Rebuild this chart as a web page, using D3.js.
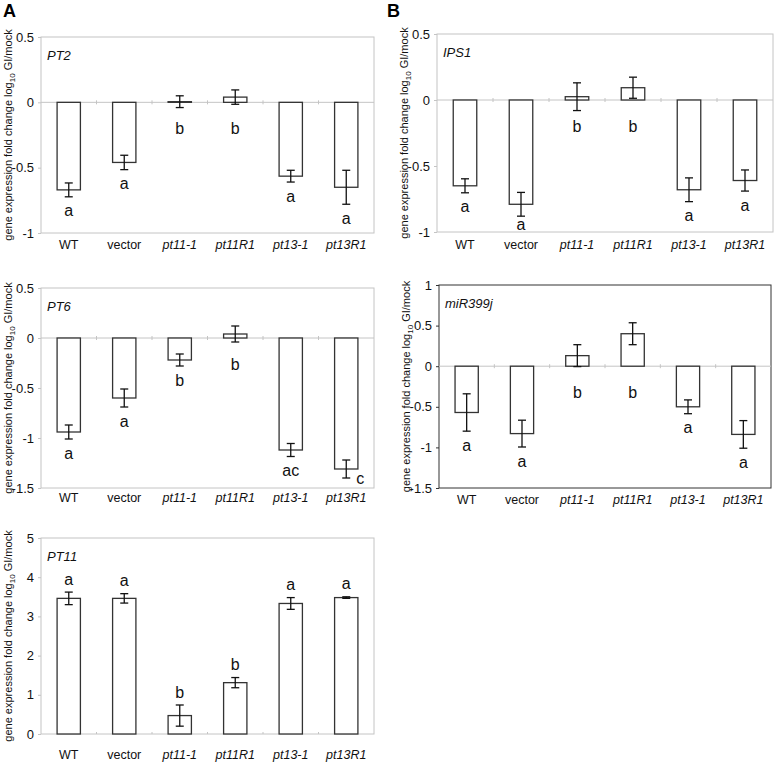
<!DOCTYPE html>
<html>
<head>
<meta charset="utf-8">
<script src="https://cdn.jsdelivr.net/npm/d3@7"></script>
<style>
  body { margin: 0; background: #fff; }
  svg { display: block; font-family: "Liberation Sans", Arial, sans-serif; }
</style>
</head>
<body>
<svg id="chart" width="774" height="767"></svg>
<script>
// categories on every panel
const categories = ["WT", "vector", "pt11-1", "pt11R1", "pt13-1", "pt13R1"];
const italicCats = ["pt11-1", "pt11R1", "pt13-1", "pt13R1"];

// PT2
const pt2Mean = [-0.67, -0.46, 0.005, 0.04, -0.565, -0.65];
const pt2Err = [0.053, 0.055, 0.045, 0.055, 0.045, 0.13];
const pt2Letters = ["a", "a", "b", "b", "a", "a"];
const pt2Ticks = [0.5, 0, -0.5, -1];

// IPS1
const ips1Mean = [-0.65, -0.79, 0.025, 0.093, -0.68, -0.61];
const ips1Err = [0.053, 0.09, 0.105, 0.08, 0.09, 0.08];
const ips1Letters = ["a", "a", "b", "b", "a", "a"];
const ips1Ticks = [0.5, 0, -0.5, -1];

// PT6
const pt6Mean = [-0.94, -0.60, -0.22, 0.04, -1.12, -1.31];
const pt6Err = [0.07, 0.09, 0.06, 0.08, 0.065, 0.09];
const pt6Letters = ["a", "a", "b", "b", "ac", "c"];
const pt6Ticks = [0.5, 0, -0.5, -1, -1.5];

// miR399j
const mirMean = [-0.57, -0.83, 0.13, 0.40, -0.50, -0.84];
const mirErr = [0.23, 0.165, 0.135, 0.135, 0.085, 0.17];
const mirLetters = ["a", "a", "b", "b", "a", "a"];
const mirTicks = [1, 0.5, 0, -0.5, -1, -1.5];

// PT11
const pt11Mean = [3.46, 3.46, 0.47, 1.31, 3.33, 3.48];
const pt11Err = [0.16, 0.12, 0.27, 0.13, 0.15, 0.02];
const pt11Letters = ["a", "a", "b", "b", "a", "a"];
const pt11Ticks = [5, 4, 3, 2, 1, 0];

const panels = [
    { gene: "PT2", mean: pt2Mean, err: pt2Err, letters: pt2Letters, ticks: pt2Ticks,
      left: 41, right: 374, top: 37, bottom: 233, frame: "#c4c4c4", labelGap: 15 },
    { gene: "IPS1", mean: ips1Mean, err: ips1Err, letters: ips1Letters, ticks: ips1Ticks,
      left: 437, right: 773, top: 34, bottom: 232, frame: "#c4c4c4", labelGap: 16 },
    { gene: "PT6", mean: pt6Mean, err: pt6Err, letters: pt6Letters, ticks: pt6Ticks,
      left: 41, right: 374, top: 288, bottom: 488, frame: "#c4c4c4", labelGap: 13 },
    { gene: "miR399j", mean: mirMean, err: mirErr, letters: mirLetters, ticks: mirTicks,
      left: 439, right: 771, top: 285, bottom: 488, frame: "#333", labelGap: 15 },
    { gene: "PT11", mean: pt11Mean, err: pt11Err, letters: pt11Letters, ticks: pt11Ticks,
      left: 41, right: 374, top: 538, bottom: 734, frame: "#c4c4c4", labelGap: 24 }
];

const svg = d3.select("#chart");

svg.append("text").attr("x", 3).attr("y", 17)
    .attr("font-size", 18).attr("font-weight", "bold").text("A");
svg.append("text").attr("x", 387).attr("y", 17)
    .attr("font-size", 18).attr("font-weight", "bold").text("B");

function drawPanel(p) {
    const g = svg.append("g");
    const yMin = d3.min(p.ticks), yMax = d3.max(p.ticks);

    const x = d3.scaleBand()
        .domain(categories)
        .range([p.left, p.right])
        .paddingInner(0.58)
        .paddingOuter(0.29);

    const y = d3.scaleLinear()
        .domain([yMin, yMax])
        .range([p.bottom, p.top]);

    // frame
    g.append("rect")
        .attr("x", p.left).attr("y", p.top)
        .attr("width", p.right - p.left).attr("height", p.bottom - p.top)
        .attr("fill", "none").attr("stroke", p.frame).attr("stroke-width", 1);

    // y axis
    const yAxis = g.append("g")
        .attr("transform", `translate(${p.left},0)`)
        .call(d3.axisLeft(y).tickValues(p.ticks).tickSize(3).tickPadding(4)
            .tickFormat(d => String(d)));
    yAxis.select(".domain").remove();
    yAxis.selectAll("line").attr("stroke", p.frame);
    yAxis.selectAll("text").attr("font-size", 13).attr("fill", "#111")
        .attr("font-family", "'Liberation Sans', Arial, sans-serif");

    // zero line with category ticks
    const y0 = y(0);
    if (yMin < 0) {
        g.append("line")
            .attr("x1", p.left).attr("x2", p.right)
            .attr("y1", y0).attr("y2", y0)
            .attr("stroke", "#c4c4c4");
    }
    const step = x.step();
    for (let i = 1; i < categories.length; i++) {
        const bx = p.left + i * step;
        g.append("line")
            .attr("x1", bx).attr("x2", bx)
            .attr("y1", y0 - 2).attr("y2", yMin < 0 ? y0 + 2 : y0)
            .attr("stroke", "#c4c4c4");
    }

    // category labels
    const xAxis = g.append("g")
        .attr("transform", `translate(0,${p.bottom + p.labelGap - 8})`)
        .call(d3.axisBottom(x).tickSize(0).tickPadding(0));
    xAxis.select(".domain").remove();
    xAxis.selectAll("text")
        .attr("font-size", 12.5).attr("fill", "#111")
        .attr("font-family", "'Liberation Sans', Arial, sans-serif")
        .attr("font-style", d => italicCats.includes(d) ? "italic" : "normal");

    const data = categories.map((c, i) => ({ cat: c, v: p.mean[i], e: p.err[i], l: p.letters[i] }));

    // bars
    g.selectAll(".bar")
        .data(data)
        .enter().append("rect")
        .attr("class", "bar")
        .attr("x", d => x(d.cat))
        .attr("width", x.bandwidth())
        .attr("y", d => Math.min(y(d.v), y0))
        .attr("height", d => Math.max(Math.abs(y(d.v) - y0), 0.6))
        .attr("fill", "#fff")
        .attr("stroke", "#333")
        .attr("stroke-width", 1.3);

    // error bars
    const cx = d => x(d.cat) + x.bandwidth() / 2;
    const eb = g.selectAll(".err").data(data).enter().append("g").attr("class", "err")
        .attr("stroke", "#111").attr("stroke-width", 1.3);
    eb.append("line")
        .attr("x1", cx).attr("x2", cx)
        .attr("y1", d => y(d.v + d.e)).attr("y2", d => y(d.v - d.e));
    eb.append("line")
        .attr("x1", d => cx(d) - 4).attr("x2", d => cx(d) + 4)
        .attr("y1", d => y(d.v + d.e)).attr("y2", d => y(d.v + d.e));
    eb.append("line")
        .attr("x1", d => cx(d) - 4).attr("x2", d => cx(d) + 4)
        .attr("y1", d => y(d.v - d.e)).attr("y2", d => y(d.v - d.e));

    // significance letters
    g.selectAll(".letter")
        .data(data)
        .enter().append("text")
        .attr("class", "letter")
        .attr("font-size", 16)
        .attr("fill", "#111")
        .attr("dy", "0.35em")
        .each(function (d) {
            let lx = cx(d), ly, anchor = "middle";
            if (yMin >= 0) {
                ly = y(d.v + d.e) - 13;
            } else if (d.v >= 0) {
                ly = y0 + 26;
            } else {
                const end = y(d.v - d.e);
                if (end + 14 > p.bottom) {
                    lx = cx(d) + 10; ly = end; anchor = "start";
                } else {
                    ly = Math.min(end + 14, p.bottom - 8);
                }
            }
            d3.select(this).attr("x", lx).attr("y", ly).attr("text-anchor", anchor);
        })
        .text(d => d.l);

    // gene name
    g.append("text")
        .attr("x", p.left + 6).attr("y", p.top + 23)
        .attr("font-size", 13).attr("font-style", "italic").attr("fill", "#111")
        .text(p.gene);

    // y axis title
    const title = g.append("text")
        .attr("transform", `translate(${p.left - 33},${(p.top + p.bottom) / 2}) rotate(-90)`)
        .attr("text-anchor", "middle")
        .attr("dy", "0.35em")
        .attr("font-size", 11)
        .attr("fill", "#111");
    title.append("tspan").text("gene expression fold change log");
    title.append("tspan").attr("font-size", 8).attr("dy", 3).text("10");
    title.append("tspan").attr("dy", -3).text(" GI/mock");
}

panels.forEach(drawPanel);
</script>
</body>
</html>
